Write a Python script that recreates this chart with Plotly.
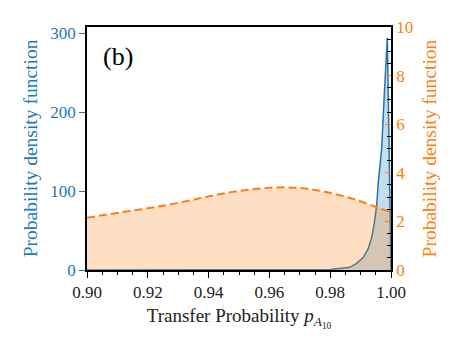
import plotly.graph_objects as go

# blue curve (left axis)
blue_x = [0.900, 0.980, 0.9821, 0.9865, 0.9887, 0.9909, 0.9925, 0.9937, 0.9945,
          0.9953, 0.9958, 0.9964, 0.9969, 0.9978, 0.9988, 1.000]
blue_y = [0, 0.5, 1.6, 3.4, 8.4, 16, 27, 42, 59, 82, 110, 135, 152, 222, 294, 0]

# orange dashed curve (right axis)
orange_x = [0.900, 0.911, 0.922, 0.933, 0.944, 0.955, 0.9636, 0.9713, 0.979,
            0.9877, 0.9954, 1.000]
orange_y = [2.15, 2.37, 2.58, 2.84, 3.13, 3.33, 3.40, 3.36, 3.20, 2.92, 2.58, 2.37]

x_ticks = [0.90, 0.92, 0.94, 0.96, 0.98, 1.00]
left_ticks = [0, 100, 200, 300]
right_ticks = [0, 2, 4, 6, 8, 10]

BLUE = "#1f77b4"
ORANGE = "#ff7f0e"
FONT = "Liberation Serif"

fig = go.Figure()

fig.add_trace(go.Scatter(
    x=blue_x, y=blue_y, mode="lines", fill="tozeroy",
    line=dict(color=BLUE, width=1.5),
    fillcolor="rgba(31,119,180,0.25)",
    yaxis="y", showlegend=False,
))

fig.add_trace(go.Scatter(
    x=orange_x, y=orange_y, mode="lines", fill="tozeroy",
    line=dict(color=ORANGE, width=2, dash="8px,4px", shape="spline"),
    fillcolor="rgba(255,127,14,0.25)",
    yaxis="y2", showlegend=False,
))

fig.add_annotation(
    x=0.102, y=0.877, xref="paper", yref="paper", text="(b)",
    xanchor="center", yanchor="middle",
    showarrow=False, font=dict(family=FONT, size=26, color="black"),
)

fig.update_layout(
    width=463, height=347,
    margin=dict(l=87, r=72, t=27, b=77),
    plot_bgcolor="white", paper_bgcolor="white",
    font=dict(family=FONT, size=17, color="#222222"),
    xaxis=dict(
        range=[0.9, 1.0], tickvals=x_ticks, tickformat=".2f",
        ticks="outside", ticklen=6, tickwidth=1.2, tickcolor="black",
        minor=dict(dtick=0.005, ticks="outside", ticklen=3, tickcolor="black"),
        showline=True, linecolor="black", linewidth=1.5, mirror=True,
        showgrid=False, zeroline=False,
        title=dict(text="Transfer Probability <i>p</i><sub><i>A</i><sub>10</sub></sub>",
                   standoff=8, font=dict(family=FONT, size=19)),
    ),
    yaxis=dict(
        range=[0, 307.6], tickvals=left_ticks,
        ticks="outside", ticklen=6, tickwidth=1.2, tickcolor=BLUE,
        tickfont=dict(family=FONT, color=BLUE),
        showline=True, linecolor="black", linewidth=1.5,
        showgrid=False, zeroline=False,
        title=dict(text="Probability density function", standoff=8,
                   font=dict(family=FONT, color=BLUE, size=19.5)),
    ),
    yaxis2=dict(
        range=[0, 10], tickvals=right_ticks, overlaying="y", side="right",
        ticks="inside", ticklen=6, tickwidth=1.2, tickcolor=ORANGE,
        tickfont=dict(family=FONT, color=ORANGE),
        minor=dict(dtick=0.5, ticks="inside", ticklen=4, tickcolor="black"),
        showline=True, linecolor="black", linewidth=1.5,
        showgrid=False, zeroline=False,
        title=dict(text="Probability density function", standoff=10,
                   font=dict(family=FONT, color=ORANGE, size=19.5)),
    ),
)

fig.write_html("out.html", config={"displayModeBar": False},
               post_script="document.body.style.margin='0';")
